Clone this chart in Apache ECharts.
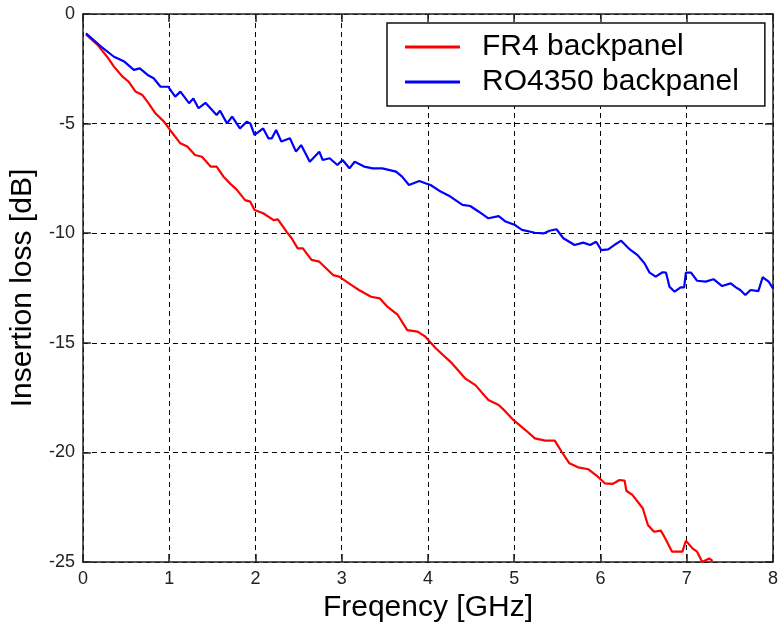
<!DOCTYPE html>
<html>
<head>
<meta charset="utf-8">
<script src="https://cdn.jsdelivr.net/npm/echarts@6/dist/echarts.min.js"></script>
<style>html,body{margin:0;padding:0;background:#fff}#c{width:781px;height:630px}</style>
</head>
<body>
<div id="c"></div>
<script>
var seriesNames = ['FR4 backpanel', 'RO4350 backpanel'];
var xTicks = [0,1,2,3,4,5,6,7,8];
var yTicks = [0,-5,-10,-15,-20,-25];

var redFreq = [0.035,0.17,0.28,0.36,0.46,0.53,0.61,0.69,0.76,0.84,0.94,1.01,1.13,1.21,1.30,1.38,1.48,1.55,1.63,1.71,1.78,1.88,1.94,1.99,2.09,2.21,2.26,2.36,2.42,2.49,2.55,2.65,2.74,2.90,2.97,3.11,3.20,3.34,3.44,3.53,3.65,3.76,3.88,3.97,4.09,4.28,4.43,4.55,4.70,4.82,4.90,4.99,5.13,5.24,5.36,5.47,5.55,5.64,5.74,5.86,5.97,6.05,6.14,6.22,6.28,6.30,6.37,6.49,6.55,6.62,6.70,6.75,6.83,6.95,6.99,7.07,7.12,7.18,7.26,7.30];
var redLoss = [-0.93,-1.41,-1.95,-2.40,-2.86,-3.09,-3.54,-3.70,-4.07,-4.53,-4.91,-5.29,-5.90,-6.05,-6.43,-6.51,-6.96,-6.96,-7.42,-7.75,-8.0,-8.49,-8.56,-8.94,-9.09,-9.40,-9.37,-9.93,-10.23,-10.69,-10.69,-11.22,-11.30,-11.91,-11.98,-12.36,-12.59,-12.90,-12.97,-13.35,-13.73,-14.42,-14.49,-14.72,-15.25,-15.94,-16.62,-16.93,-17.61,-17.84,-18.14,-18.52,-18.98,-19.36,-19.46,-19.46,-19.97,-20.50,-20.68,-20.77,-21.11,-21.41,-21.44,-21.26,-21.29,-21.75,-21.94,-22.55,-23.31,-23.62,-23.57,-23.92,-24.53,-24.53,-24.03,-24.39,-24.53,-25.0,-24.84,-24.95];

var blueFreq = [0.035,0.21,0.36,0.48,0.59,0.66,0.75,0.82,0.90,0.99,1.07,1.13,1.23,1.28,1.34,1.42,1.55,1.59,1.67,1.73,1.82,1.90,1.94,1.99,2.09,2.15,2.19,2.24,2.30,2.40,2.47,2.53,2.63,2.74,2.78,2.86,2.95,3.01,3.09,3.15,3.26,3.36,3.47,3.63,3.70,3.78,3.90,3.97,4.03,4.13,4.26,4.40,4.49,4.59,4.70,4.82,4.90,5.01,5.09,5.24,5.34,5.41,5.49,5.57,5.70,5.80,5.88,5.95,6.01,6.09,6.16,6.24,6.34,6.43,6.51,6.57,6.64,6.72,6.76,6.80,6.86,6.93,6.97,6.99,7.05,7.12,7.22,7.31,7.41,7.51,7.57,7.62,7.68,7.74,7.83,7.88,7.95,8.0];
var blueLoss = [-0.88,-1.49,-1.95,-2.17,-2.55,-2.48,-2.78,-2.93,-3.32,-3.32,-3.77,-3.54,-4.07,-3.85,-4.30,-4.05,-4.61,-4.41,-4.99,-4.68,-5.22,-4.91,-4.99,-5.52,-5.22,-5.67,-5.67,-5.29,-5.82,-5.67,-6.28,-5.98,-6.74,-6.28,-6.66,-6.58,-6.89,-6.66,-7.04,-6.74,-6.96,-7.04,-7.04,-7.19,-7.42,-7.80,-7.62,-7.72,-7.80,-8.06,-8.33,-8.71,-8.76,-9.02,-9.32,-9.22,-9.47,-9.63,-9.85,-9.98,-10.01,-9.89,-9.82,-10.23,-10.54,-10.43,-10.54,-10.39,-10.77,-10.74,-10.54,-10.34,-10.74,-11.0,-11.37,-11.80,-11.98,-11.78,-11.80,-12.44,-12.67,-12.47,-12.47,-11.80,-11.80,-12.17,-12.21,-12.10,-12.41,-12.29,-12.47,-12.59,-12.82,-12.59,-12.64,-12.01,-12.21,-12.52];

function zip(a, b) { return a.map(function (v, i) { return [v, b[i]]; }); }

var FONT = '"Liberation Sans", Arial, sans-serif';
var chart = echarts.init(document.getElementById('c'), null, {renderer: 'canvas'});
var frame = {show: true, onZero: false, lineStyle: {color: '#222', width: 1.5}};
var gridDash = {show: true, lineStyle: {color: '#000', width: 1, type: [5, 4]}};
chart.setOption({
  animation: false,
  backgroundColor: '#fff',
  grid: {left: 82, right: 5, top: 14, bottom: 68, containLabel: false},
  legend: {
    data: seriesNames,
    orient: 'vertical',
    left: 387, top: 23,
    padding: [9, 26, 9, 18],
    icon: 'rect',
    itemWidth: 55, itemHeight: 3, itemGap: 5,
    backgroundColor: '#fff',
    borderColor: '#111', borderWidth: 1.5, borderRadius: 0,
    textStyle: {fontFamily: FONT, fontSize: 30, color: '#000', lineHeight: 30, padding: [0, 0, 0, 17]}
  },
  xAxis: [{
    type: 'value', min: xTicks[0], max: xTicks[xTicks.length - 1], interval: 1,
    name: 'Freqency [GHz]', nameLocation: 'middle', nameGap: 27,
    nameTextStyle: {fontFamily: FONT, fontSize: 30, color: '#000'},
    axisLine: frame,
    axisTick: {show: true, inside: true, length: 8, lineStyle: {color: '#222', width: 1.5}},
    axisLabel: {fontFamily: FONT, fontSize: 18, color: '#222', margin: 8},
    splitLine: gridDash
  }, {
    type: 'value', position: 'top', min: 0, max: 8, interval: 1,
    axisLine: frame,
    axisTick: {show: true, inside: true, length: 8, lineStyle: {color: '#222', width: 1.5}},
    axisLabel: {show: false}, splitLine: {show: false}
  }],
  yAxis: [{
    type: 'value', min: yTicks[yTicks.length - 1], max: yTicks[0], interval: 5,
    name: 'Insertion loss [dB]', nameLocation: 'middle', nameGap: 42,
    nameTextStyle: {fontFamily: FONT, fontSize: 30, color: '#000'},
    axisLine: frame,
    axisTick: {show: true, inside: true, length: 8, lineStyle: {color: '#222', width: 1.5}},
    axisLabel: {fontFamily: FONT, fontSize: 18, color: '#222', margin: 8},
    splitLine: gridDash
  }, {
    type: 'value', position: 'right', min: -25, max: 0, interval: 5,
    axisLine: frame,
    axisTick: {show: true, inside: true, length: 8, lineStyle: {color: '#222', width: 1.5}},
    axisLabel: {show: false}, splitLine: {show: false}
  }],
  series: [{
    name: seriesNames[0], type: 'line', showSymbol: false, symbol: 'none',
    clip: true, data: zip(redFreq, redLoss),
    lineStyle: {color: '#ff0000', width: 2.2}, itemStyle: {color: '#ff0000'}
  }, {
    name: seriesNames[1], type: 'line', showSymbol: false, symbol: 'none',
    clip: true, data: zip(blueFreq, blueLoss),
    lineStyle: {color: '#0000ff', width: 2.2}, itemStyle: {color: '#0000ff'}
  }]
});
</script>
</body>
</html>
